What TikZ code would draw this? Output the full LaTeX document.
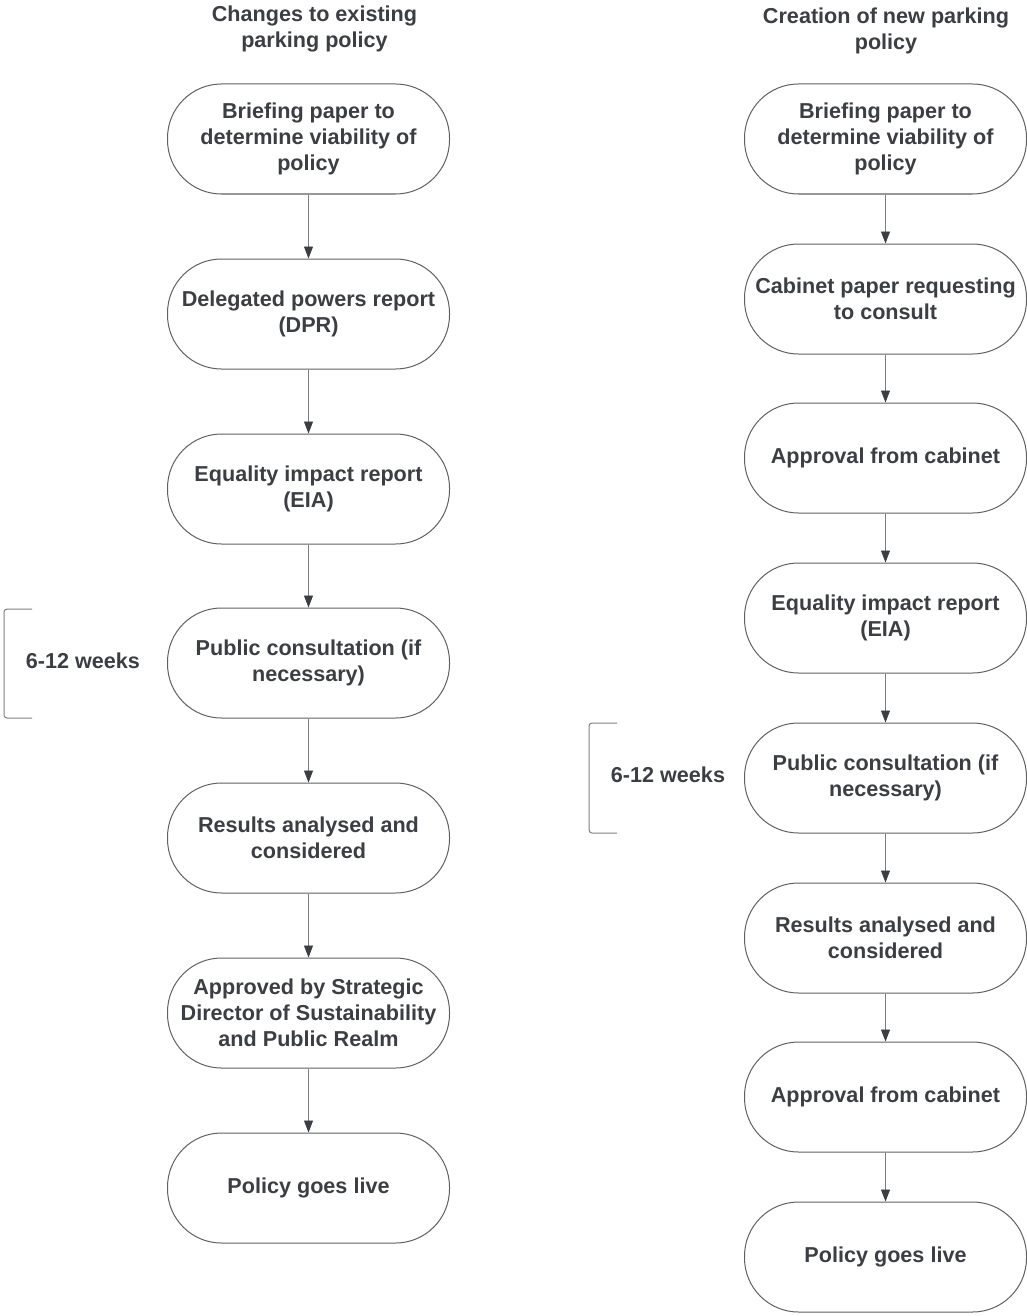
\documentclass[tikz,border=0pt]{standalone}
\usepackage{fontspec}
\setmainfont{Liberation Sans}
\usetikzlibrary{arrows.meta}
\definecolor{inkgray}{HTML}{3B3E43}
\definecolor{edgegray}{HTML}{606060}
\definecolor{linegray}{HTML}{7E7E7E}
\tikzset{
    stage/.style={draw=edgegray, line width=1pt, rounded corners=54pt, minimum width=282pt, minimum height=110pt, inner sep=0pt, align=center, text=inkgray, font=\bfseries\fontsize{21.6}{26}\selectfont},
    heading/.style={align=center, text=inkgray, font=\bfseries\fontsize{21.6}{25.5}\selectfont},
    flow/.style={draw=linegray, line width=0.9pt, -{Triangle[width=9pt,length=12pt,fill=inkgray,color=inkgray]}},
    bracket/.style={draw=gray, line width=1pt, rounded corners=3pt}
}
\begin{document}
\begin{tikzpicture}[x=1pt, y=-1pt]
        \useasboundingbox (0,0) rectangle (1026,1316);

        \node[heading] (titleL) at (314.5, 29) {Changes to existing\\parking policy};
        \node[heading] (titleR) at (886, 31) {Creation of new parking\\policy};

        \node[stage] (briefL) at (308.5, 139) {Briefing paper to\\determine viability of\\policy};
        \node[stage] (dpr) at (308.5, 314) {Delegated powers report\\(DPR)};
        \node[stage] (eiaL) at (308.5, 489) {Equality impact report\\(EIA)};
        \node[stage] (consultL) at (308.5, 663) {Public consultation (if\\necessary)};
        \node[stage] (resultsL) at (308.5, 838) {Results analysed and\\considered};
        \node[stage] (director) at (308.5, 1013) {Approved by Strategic\\Director of Sustainability\\and Public Realm};
        \node[stage] (liveL) at (308.5, 1188) {Policy goes live};

        \draw[flow] (briefL) -- (dpr);
        \draw[flow] (dpr) -- (eiaL);
        \draw[flow] (eiaL) -- (consultL);
        \draw[flow] (consultL) -- (resultsL);
        \draw[flow] (resultsL) -- (director);
        \draw[flow] (director) -- (liveL);

        \node[stage] (briefR) at (885.5, 139) {Briefing paper to\\determine viability of\\policy};
        \node[stage] (cabpaper) at (885.5, 299) {Cabinet paper requesting\\to consult};
        \node[stage] (approvalA) at (885.5, 458) {Approval from cabinet};
        \node[stage] (eiaR) at (885.5, 618) {Equality impact report\\(EIA)};
        \node[stage] (consultR) at (885.5, 778) {Public consultation (if\\necessary)};
        \node[stage] (resultsR) at (885.5, 938) {Results analysed and\\considered};
        \node[stage] (approvalB) at (885.5, 1097) {Approval from cabinet};
        \node[stage] (liveR) at (885.5, 1257) {Policy goes live};

        \draw[flow] (briefR) -- (cabpaper);
        \draw[flow] (cabpaper) -- (approvalA);
        \draw[flow] (approvalA) -- (eiaR);
        \draw[flow] (eiaR) -- (consultR);
        \draw[flow] (consultR) -- (resultsR);
        \draw[flow] (resultsR) -- (approvalB);
        \draw[flow] (approvalB) -- (liveR);

        \draw[bracket] (32, 609) -- (4, 609) -- (4, 718) -- (32, 718);
        \node[heading] (weeksL) at (83, 661) {6-12 weeks};

        \draw[bracket] (617, 723) -- (589, 723) -- (589, 833) -- (617, 833);
        \node[heading] (weeksR) at (668, 775) {6-12 weeks};

    \end{tikzpicture}
\end{document}
